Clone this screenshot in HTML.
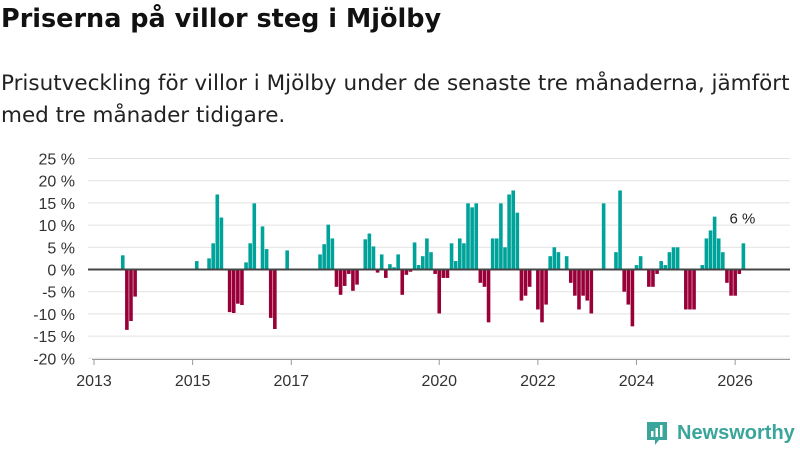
<!DOCTYPE html>
<html><head><meta charset="utf-8">
<style>
body{margin:0;width:800px;height:450px;background:#fff;font-family:"Liberation Sans","DejaVu Sans",sans-serif;overflow:hidden;position:relative}
h1{position:absolute;left:1px;top:4px;margin:0;font-family:"DejaVu Sans",sans-serif;font-size:25.5px;font-weight:bold;color:#111;white-space:nowrap}
p{position:absolute;left:1px;top:68px;margin:0;font-family:"DejaVu Sans",sans-serif;font-size:21.5px;line-height:32px;color:#222;width:800px;white-space:nowrap}
svg{position:absolute;left:0;top:0}
</style></head><body>
<h1>Priserna på villor steg i Mjölby</h1>
<p>Prisutveckling för villor i Mjölby under de senaste tre månaderna, jämfört<br>med tre månader tidigare.</p>
<svg id="chart" width="800" height="450"></svg>
<script>
// months since 2013-01
const monthIdx=[7,8,9,10,25,28,29,30,31,33,34,35,36,37,38,39,41,42,43,44,47,55,56,57,58,59,60,61,62,63,64,66,67,68,69,70,71,72,73,74,75,76,77,78,79,80,81,82,83,84,85,86,87,88,89,90,91,92,93,94,95,96,97,98,99,100,101,102,103,104,105,106,108,109,110,111,112,113,115,116,117,118,119,120,121,124,127,128,129,130,131,132,133,135,136,137,138,139,140,141,142,144,145,146,148,149,150,151,152,153,154,155,156,157,158];
const values=[3.2,-13.6,-11.6,-6.1,1.9,2.5,5.9,16.9,11.7,-9.6,-9.8,-7.7,-8.0,1.6,5.9,14.9,9.7,4.6,-10.9,-13.4,4.3,3.4,5.7,10.1,7.0,-3.9,-5.7,-3.7,-1.0,-4.8,-3.4,6.8,8.1,5.2,-0.7,3.4,-1.9,1.2,0.5,3.4,-5.7,-1.2,-0.5,6.1,1.0,3.0,7.0,3.9,-1.0,-9.9,-1.9,-1.9,5.9,1.9,7.0,5.9,14.9,14.0,14.9,-3.0,-3.9,-11.9,7.0,7.0,14.9,5.0,16.9,17.8,12.8,-7.0,-5.9,-3.9,-9.0,-11.9,-7.9,3.0,5.0,3.9,3.0,-3.0,-5.9,-9.0,-5.9,-7.0,-9.9,14.9,3.9,17.8,-5.0,-7.9,-12.8,1.0,3.0,-3.9,-3.9,-1.0,1.9,1.0,3.9,5.0,5.0,-9.0,-9.0,-9.0,1.0,7.0,8.8,11.9,7.0,3.9,-3.0,-5.9,-5.9,-1.0,5.9];
const yTicks=[25,20,15,10,5,0,-5,-10,-15,-20];
const xTickYears=[2013,2015,2017,2020,2022,2024,2026];
const lastLabel="6 %";
const NS="http://www.w3.org/2000/svg";
const svg=document.getElementById('chart');
const y=v=>269.5-v*4.44;
const x=m=>94+m*4.11;
function mk(t,a){const e=document.createElementNS(NS,t);for(const k in a)e.setAttribute(k,a[k]);svg.appendChild(e);return e;}
yTicks.forEach(t=>{
  if(t!==0){const g=mk('line',{x1:88,x2:790,y1:y(t),y2:y(t),stroke:'#e2e2e2','stroke-width':1});
  
  }
  const l=mk('text',{x:75,y:y(t)+6,'text-anchor':'end','font-size':16,fill:'#333'});
  l.textContent=t+' %';
  
  
});
monthIdx.forEach((m,i)=>{
  const v=values[i];
  const r=mk('rect',{x:x(m)-1.8,width:3.6,y:v>=0?y(v):y(0),height:Math.abs(y(v)-y(0)),fill:v>=0?'#00a39a':'#990038'});
  
  
});
const zl=mk('line',{x1:88,x2:790,y1:y(0),y2:y(0),stroke:'#444','stroke-width':2});


const ax=mk('line',{x1:92,x2:790,y1:359.5,y2:359.5,stroke:'#999','stroke-width':1});


xTickYears.forEach(yr=>{
  const xx=x((yr-2013)*12);
  const tk=mk('line',{x1:xx,x2:xx,y1:359.5,y2:365,stroke:'#999'});
  
  
  const l=mk('text',{x:xx,y:386,'text-anchor':'middle','font-size':16,fill:'#333'});
  l.textContent=yr;
  
  
});
const li=monthIdx.length-1;
const lb=mk('text',{x:x(monthIdx[li])-1,y:y(values[li])-20,'text-anchor':'middle','font-size':15,fill:'#222'});
lb.textContent=lastLabel;


</script>
<div style="position:absolute;left:645px;top:420px;display:flex;align-items:center">
<svg width="24" height="26" style="position:static"><path d="M2 2h20v18h-8l-4 5v-5H2z" fill="#3aa59a"/><rect x="6" y="11" width="2.5" height="6" fill="#fff"/><rect x="10.5" y="8" width="2.5" height="9" fill="#fff"/><rect x="15" y="5" width="2.5" height="12" fill="#fff"/></svg>
<span style="color:#3aa59a;font-size:20px;font-weight:bold;margin-left:8px">Newsworthy</span></div>
</body></html>
